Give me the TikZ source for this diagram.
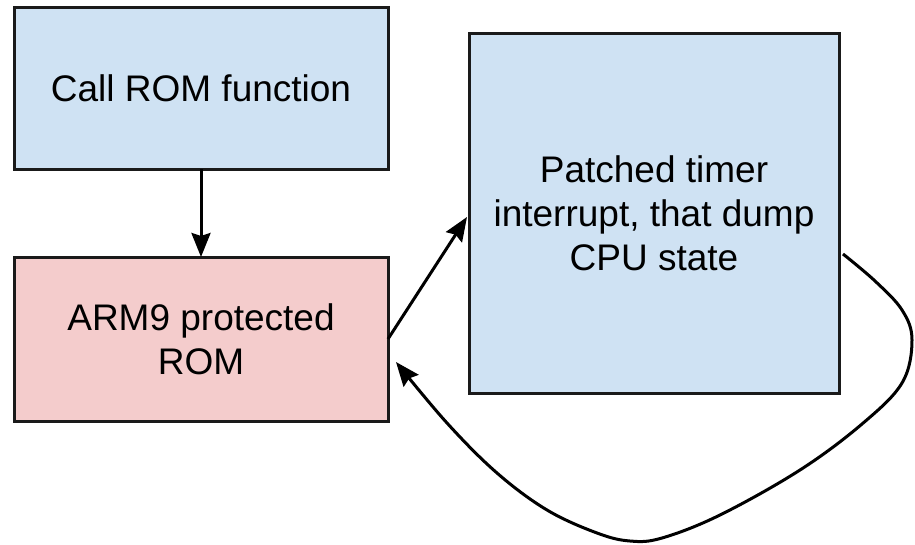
\documentclass[tikz,border=0pt]{standalone}
\usepackage{fontspec}
\setmainfont{Liberation Sans}
\usetikzlibrary{arrows.meta,calc}
\definecolor{boxblue}{HTML}{CFE2F3}
\definecolor{boxpink}{HTML}{F4CCCC}
\definecolor{edge}{HTML}{1A1A1A}
\begin{document}
\begin{tikzpicture}[x=1pt,y=-1pt,
  box/.style={draw=edge, line width=3pt, rectangle, align=center,
    inner sep=0pt, outer sep=0pt,
    font=\fontsize{37}{44}\selectfont},
  link/.style={draw=black, line width=3pt,
    -{Stealth[length=24pt,width=19pt,inset=3pt]}}]
  \useasboundingbox (0,0) rectangle (915,544);

  % boxes
  \node[box, fill=boxblue, minimum width=374pt, minimum height=162pt]
    (call) at (201,88) {Call ROM function};
  \node[box, fill=boxpink, minimum width=374pt, minimum height=164pt]
    (arm9) at (201,339) {ARM9 protected\\ROM};
  \node[box, fill=boxblue, minimum width=370pt, minimum height=360pt]
    (cpu) at (654,213) {Patched timer\\interrupt, that dump\\CPU state};

  % ends of the return loop
  \coordinate (loopstart) at ($(cpu.east)+(4,41)$);
  \coordinate (loopend) at ($(arm9.east)+(8,23)$);
  \coordinate (irqin) at ($(cpu.west)+(-2,4)$);

  % connectors
  \draw[link] (call.south) -- (arm9.north);
  \draw[link] (arm9.east) -- (irqin);
  \draw[link] plot[smooth, tension=0.6] coordinates {
    (loopstart) (875,281) (902,310) (912,340) (902,383) (862,424)
    (800,470) (720,515) (662,538) (630,541) (597,533) (547,510)
    (497,473) (447,423) (loopend)};
\end{tikzpicture}
\end{document}
